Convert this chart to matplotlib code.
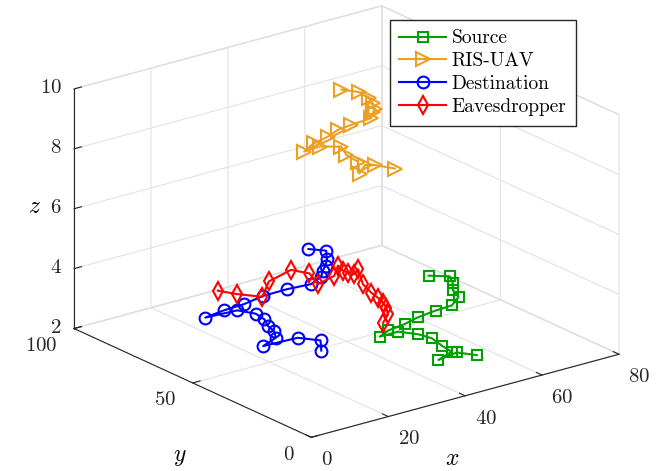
import matplotlib
matplotlib.use('Agg')
import matplotlib.pyplot as plt

plt.rcParams['font.family'] = 'cmr10'
plt.rcParams['mathtext.fontset'] = 'cm'
plt.rcParams['axes.formatter.use_mathtext'] = True

# trajectories (x, y, z)
src_x = [66.2, 69.4, 68.6, 66.2, 65.6, 61.5, 58.1, 52.9, 49.4, 44.3, 41.8, 46.6, 50.0, 50.8, 49.8, 50.3, 45.2, 50.9, 53.2]
src_y = [57.9, 54.2, 51.6, 47.7, 44.3, 40.5, 41.8, 40.7, 40.6, 39.4, 38.9, 38.9, 36.0, 31.6, 25.7, 22.4, 19.7, 21.2, 16.5]
src_z = [3.0, 3.0, 2.9, 2.9, 2.8, 2.8, 2.7, 2.7, 2.6, 2.6, 2.5, 2.5, 2.4, 2.4, 2.4, 2.3, 2.3, 2.3, 2.3]

uav_x = [54.2, 56.2, 56.7, 55.6, 55.0, 53.4, 52.1, 47.5, 44.6, 40.6, 37.0, 33.5, 37.8, 42.4, 40.2, 40.8, 37.9, 41.8, 43.4, 45.5]
uav_y = [75.2, 71.1, 67.7, 64.2, 62.4, 60.5, 59.2, 60.2, 61.1, 58.8, 58.8, 57.3, 57.8, 56.1, 50.4, 46.5, 41.1, 45.2, 43.7, 38.5]
uav_z = [9.0, 9.0, 8.9, 8.9, 8.8, 8.8, 8.7, 8.6, 8.5, 8.5, 8.4, 8.3, 8.3, 8.2, 8.2, 8.1, 8.0, 8.0, 8.0, 8.0]

dst_x = [47.5, 49.8, 48.0, 45.4, 44.2, 41.8, 38.6, 32.9, 27.7, 21.5, 17.1, 11.5, 19.3, 22.2, 21.6, 19.8, 20.1, 18.0, 14.0, 22.6, 25.4, 21.9]
dst_y = [78.2, 74.5, 71.2, 67.6, 66.9, 63.6, 62.7, 63.5, 65.1, 63.3, 64.6, 63.3, 62.5, 59.4, 54.8, 50.4, 48.3, 44.1, 43.0, 42.4, 37.3, 31.3]
dst_z = [3.8, 3.8, 3.7, 3.7, 3.6, 3.6, 3.5, 3.5, 3.4, 3.4, 3.3, 3.3, 3.3, 3.2, 3.2, 3.2, 3.1, 3.1, 3.0, 3.0, 3.0, 3.0]

eve_x = [41.9, 45.7, 46.8, 48.0, 47.9, 48.6, 49.2, 52.7, 50.3, 49.8, 48.6, 49.6, 45.4, 39.7, 41.1, 39.3, 31.6, 26.1, 22.9, 21.0]
eve_y = [37.7, 41.8, 44.2, 47.6, 49.6, 53.5, 58.0, 65.7, 63.4, 65.4, 65.5, 69.2, 63.9, 61.6, 67.4, 72.3, 69.1, 63.0, 68.5, 73.4]
eve_z = [3.0, 3.0, 3.1, 3.1, 3.2, 3.2, 3.3, 3.4, 3.4, 3.4, 3.5, 3.5, 3.5, 3.5, 3.6, 3.6, 3.6, 3.5, 3.5, 3.5]

fig = plt.figure(figsize=(6.67, 4.71), dpi=100)
ax = fig.add_axes([0.01, 0.016, 1, 1], projection='3d', proj_type='ortho')
ax.view_init(elev=20.6, azim=-127.5)
ax.set_box_aspect((1, 1.005, 0.66), zoom=1.25)

ax.plot(src_x, src_y, src_z, '-s', color='#00a000', lw=1.5, ms=7, mfc='none', mew=1.5, label='Source')
ax.plot(uav_x, uav_y, uav_z, '->', color='#eba024', lw=1.5, ms=10, mfc='none', mew=1.5, label='RIS-UAV')
ax.plot(dst_x, dst_y, dst_z, '-o', color='#0000ff', lw=1.5, ms=8.5, mfc='none', mew=1.5, label='Destination')
ax.plot(eve_x, eve_y, eve_z, '-d', color='#ff0000', lw=1.5, ms=9, mfc='none', mew=1.5, label='Eavesdropper')

ax.set_xlim(0, 80)
ax.set_ylim(0, 100)
ax.set_zlim(2, 10)
ax.set_xticks([0, 20, 40, 60, 80])
ax.set_yticks([0, 50, 100])
ax.set_zticks([2, 4, 6, 8, 10])

for axis in (ax.xaxis, ax.yaxis, ax.zaxis):
    axis.set_pane_color((1, 1, 1, 1))
    axis.pane.set_edgecolor('#dcdcdc')
    axis._axinfo['grid'].update(color='#e2e2e2', linewidth=0.8)
    axis._axinfo['tick']['inward_factor'] = 0.0
    axis._axinfo['tick']['outward_factor'] = 0.3
    axis.line.set_color('#262626')
    axis.line.set_linewidth(0.8)
ax.tick_params(labelsize=15, colors='#262626', pad=-1)
ax.yaxis.set_tick_params(pad=1.5)
ax.zaxis.set_tick_params(pad=-4)
plt.setp(ax.get_xticklabels(), ha='left')
plt.setp(ax.get_yticklabels(), ha='right', va='center')
plt.setp(ax.get_zticklabels(), ha='right', va='center')

fig.text(0.678, 0.025, '$x$', fontsize=17, ha='center', va='center')
fig.text(0.27, 0.03, '$y$', fontsize=17, ha='center', va='center')
fig.text(0.052, 0.56, '$z$', fontsize=17, ha='center', va='center')

ax.legend(loc='upper right', bbox_to_anchor=(0.864, 0.958), bbox_transform=fig.transFigure,
          fontsize=14, fancybox=False, framealpha=1, edgecolor='#262626',
          handlelength=2.4, handletextpad=0.3, labelspacing=0.25, borderpad=0.5,
          borderaxespad=0)

fig.savefig('out.png', dpi=100)
